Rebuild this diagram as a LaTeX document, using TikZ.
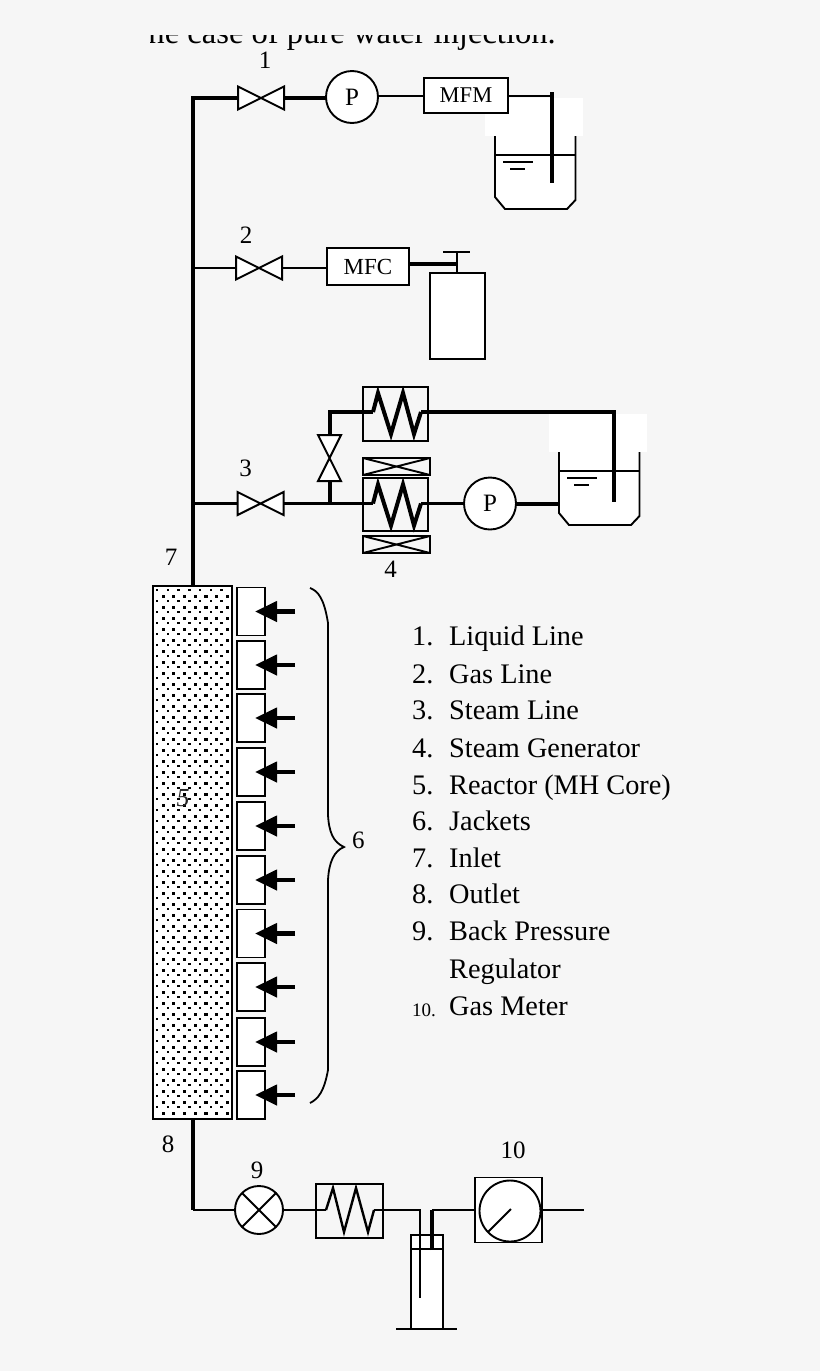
\documentclass[tikz,border=0pt]{standalone}
\usepackage{fontspec}
\setmainfont{Liberation Serif}
\usetikzlibrary{
    positioning,      % For placing nodes relative to each other
    arrows.meta       % For the jacket arrow tips
}
\definecolor{page_grey}{HTML}{F6F6F6}

% Bowtie drawn through the corners of a valve node
\newcommand{\drawvalve}[1]{\draw[valve_line] (#1.north west) -- (#1.south west) -- (#1.north east) -- (#1.south east) -- cycle;}
\newcommand{\drawvalveup}[1]{\draw[valve_line] (#1.north west) -- (#1.north east) -- (#1.south west) -- (#1.south east) -- cycle;}
% Zigzag through a coil node
\newcommand{\drawcoil}[2]{\draw[#2, line join=miter] (#1.west) -- ++(5,-19) -- ++(13,41) -- ++(12,-41) -- ++(11,41) -- (#1.east);}
% Cross through a heater node
\newcommand{\drawheater}[1]{\draw[box_line] (#1.north west) -- (#1.south east) (#1.south west) -- (#1.north east);}
% Beaker with its white patch and water level
\newcommand{\drawbeaker}[2]{
    \begin{scope}[shift={(#1,#2)}]
        \fill[white] (-10.5,-38) rectangle (87.5,0);
        \draw[box_line, fill=white] (0,0) -- (0,61) -- (10,73) -- (72,73) -- (80.5,64) -- (80.5,0);
        \draw[box_line] (0,19) -- (80.5,19);
        \draw[box_line] (8,26) -- (38,26);
        \draw[box_line] (15,33) -- (30,33);
    \end{scope}
}

\begin{document}
\begin{tikzpicture}[
    x=1pt, y=-1pt,
    % Line weights
    pipe_thick/.style={line width=4pt},
    pipe_mid/.style={line width=3.2pt},
    pipe_thin/.style={line width=2pt},
    box_line/.style={line width=1.9pt},
    valve_line/.style={line width=2pt, fill=white},
    % Nodes
    valve_box/.style={inner sep=0pt, outer sep=0pt, minimum width=46pt, minimum height=23pt},
    valve_up/.style={inner sep=0pt, outer sep=0pt, minimum width=23pt, minimum height=46pt},
    coil_box/.style={inner sep=0pt, outer sep=0pt, minimum width=48pt, minimum height=42pt},
    proc_box/.style={draw, box_line, fill=white, inner sep=0pt, outer sep=0pt, font=\fontsize{23}{24}\selectfont},
    pump/.style={draw, box_line, fill=white, circle, inner sep=0pt, outer sep=0pt, minimum size=52pt, font=\fontsize{25}{25}\selectfont},
    jacket/.style={draw, box_line, fill=white, inner sep=0pt, outer sep=0pt, minimum width=28pt, minimum height=48pt},
    jacket_arrow/.style={line width=4.2pt, -{Triangle[length=22pt, width=20pt]}},
    num_label/.style={inner sep=0pt, font=\fontsize{25}{25}\selectfont},
    list_style/.style={inner sep=0pt, font=\fontsize{28.3}{28}\selectfont}
]
    % Page background
    \fill[page_grey] (0,0) rectangle (820,1371);

    % 1. Leftover caption line, cut by the page
    \begin{scope}
        \clip (150,35) rectangle (560,52);
        \node[inner sep=0pt, anchor=base east, font=\fontsize{32.6}{32}\selectfont] (caption) at (556,43.5) {the case of pure water injection.};
    \end{scope}

    % 2. Reactor and its dots
    \node[draw, line width=2.2pt, fill=white, inner sep=0pt, outer sep=0pt, minimum width=79pt, minimum height=533pt] (reactor) at (192.5,852.5) {};
    \foreach \r in {0,...,95} {
        \pgfmathsetmacro{\dy}{589+\r*5.5}
        \pgfmathsetmacro{\dx}{mod(\r,2)==0 ? 156 : 161.5}
        \pgfmathsetmacro{\ds}{mod(\r,2)==0 ? 2.4 : 3.2}
        \foreach \c in {0,...,6} {
            \fill (\dx+\c*10.7,\dy) rectangle ++(\ds,\ds);
        }
    }
    \node[inner sep=0pt, font=\fontsize{26}{26}\selectfont\itshape, text=black!85] (five) at (183,798) {5};

    % 3. Jackets and arrows
    \foreach \i/\yc in {1/611.5,2/665,3/718,4/772,5/826,6/880,7/933.5,8/987,9/1042,10/1095} {
        \node[jacket] (j\i) at (251,\yc) {};
        \coordinate (ja\i) at ([xshift=30pt]j\i.east);
        \draw[jacket_arrow] (ja\i) -- ([xshift=-10pt]j\i.east);
    }
    \coordinate (bracetip) at (344,847);
    \draw[line width=1.8pt] (310,588) .. controls (318,591) and (324,598) .. (328,623) -- (328,815)
        .. controls (329,832) and (333,842) .. (bracetip)
        .. controls (334,851) and (329,862) .. (328,880) -- (328,1070)
        .. controls (324,1092) and (318,1099) .. (310,1103);
    \node[num_label, right=8pt of bracetip, yshift=7pt] (six) {6};

    % 4. Liquid line
    \drawbeaker{495}{136}
    \node[valve_box] (v1) at (261,98) {};
    \node[pump, right=42pt of v1, yshift=1pt] (p1) {P};
    \node[proc_box, minimum width=84pt, minimum height=35pt, font=\fontsize{22.5}{24}\selectfont] (mfm) at (466,95.5) {\raisebox{-2pt}{MFM}};
    \coordinate (tube1) at (551.5,92);
    \draw[pipe_thick] (v1.west) -| (reactor.north);
    \draw[pipe_thick] (v1.east) -- (v1.east -| p1.west);
    \draw[pipe_thin] (p1.east |- mfm.west) -- (mfm.west);
    \draw[pipe_thin] (mfm.east) -- (mfm.east -| tube1);
    \draw[pipe_thick] (tube1) -- ++(0,91);
    \drawvalve{v1}
    \node[num_label, above=18pt of v1.north, xshift=4pt] (n1) {1};

    % 5. Gas line
    \node[valve_box] (v2) at (259,268) {};
    \node[proc_box, minimum width=82pt, minimum height=37pt, right=45pt of v2, yshift=1.5pt] (mfc) {\raisebox{-1pt}{MFC}};
    \node[draw, box_line, fill=white, inner sep=0pt, outer sep=0pt, minimum width=55pt, minimum height=86pt] (bottle) at (457.5,316) {};
    \coordinate (cap) at (457,252);
    \draw[pipe_thin] (v2.west) -- (v2.west -| reactor.north);
    \draw[pipe_thin] (v2.east) -- (v2.east -| mfc.west);
    \draw[line width=4pt] (mfc.east |- 0,263.5) -- (457,263.5);
    \draw[pipe_thin] (bottle.north -| cap) -- (cap);
    \draw[pipe_thin] ([xshift=-14pt]cap) -- ([xshift=13pt]cap);
    \drawvalve{v2}
    \node[num_label, above=13pt of v2.north, xshift=-13pt] (n2) {2};

    % 6. Steam line
    \drawbeaker{559}{452}
    \node[draw, box_line, inner sep=0pt, outer sep=0pt, minimum width=65pt, minimum height=54pt] (hx1) at (395.5,414) {};
    \node[draw, box_line, inner sep=0pt, outer sep=0pt, minimum width=65pt, minimum height=53pt] (hx2) at (395.5,504.5) {};
    \node[draw, box_line, inner sep=0pt, outer sep=0pt, minimum width=67pt, minimum height=17pt] (heat1) at (396.5,466.5) {};
    \node[draw, box_line, inner sep=0pt, outer sep=0pt, minimum width=67pt, minimum height=17pt] (heat2) at (396.5,544.5) {};
    \drawheater{heat1}
    \drawheater{heat2}
    \node[coil_box] (coil1) at (397,412) {};
    \node[coil_box] (coil2) at (397,503.5) {};
    \node[valve_box] (v3) at (260.5,503.5) {};
    \node[valve_up] (v4) at (329.5,458) {};
    \node[pump] (p2) at (490,503.5) {P};
    \coordinate (tee) at (329.5,503.5);
    \coordinate (tube2) at (614,412);
    \draw[pipe_mid] (v3.west) -- (v3.west -| reactor.north);
    \draw[pipe_mid] (v3.east) -- (coil2.west);
    \draw[pipe_thick] (tee) -- (v4.south);
    \draw[pipe_thick] (v4.north) |- (coil1.west);
    \drawcoil{coil1}{pipe_thick}
    \drawcoil{coil2}{pipe_thick}
    \draw[pipe_thick] (coil1.east) -- (tube2) -- ++(0,90);
    \draw[pipe_mid] (coil2.east) -- (p2.west);
    \draw[pipe_thick] (p2.east) -- (559,503.5);
    \drawvalve{v3}
    \drawvalveup{v4}
    \node[num_label, above=15pt of v3.north, xshift=-15pt] (n3) {3};
    \node[num_label, below=8pt of heat2.south, xshift=-6pt] (n4) {4};
    \node[num_label] (n7) at (171,557) {7};

    % 7. Outlet line
    \node[draw, box_line, fill=white, inner sep=0pt, outer sep=0pt, minimum width=32pt, minimum height=94pt] (vessel) at (427,1282) {};
    \draw[box_line] ([yshift=-14pt]vessel.north west) -- ([yshift=-14pt]vessel.north east);
    \draw[box_line] ([xshift=-15pt]vessel.south west) -- ([xshift=14pt]vessel.south east);
    \node[draw, box_line, fill=white, circle, inner sep=0pt, outer sep=0pt, minimum size=48pt] (bpr) at (259,1210) {};
    \draw[box_line] (bpr.45) -- (bpr.225) (bpr.135) -- (bpr.315);
    \node[draw, box_line, inner sep=0pt, outer sep=0pt, minimum width=67pt, minimum height=54pt] (hx3) at (349.5,1211) {};
    \node[coil_box, minimum width=48pt] (coil3) at (350,1210) {};
    \node[draw, box_line, fill=white, inner sep=0pt, outer sep=0pt, minimum width=67pt, minimum height=65pt] (meterbox) at (508.5,1210) {};
    \node[draw, box_line, fill=white, circle, inner sep=0pt, outer sep=0pt, minimum size=61pt] (meter) at (510,1211) {};
    \coordinate (dip) at (420,1298);
    \coordinate (dip2) at (432,1250);
    \coordinate (vent) at (584,1210);
    \draw[pipe_thick] (reactor.south) -- (reactor.south |- bpr.west);
    \draw[pipe_thin] (reactor.south |- bpr.west) -- (bpr.west);
    \draw[pipe_thin] (bpr.east) -- (coil3.west);
    \draw[line width=2.4pt, line join=miter] (coil3.west) -- ++(7,-22) -- ++(11,44) -- ++(12,-44) -- ++(12,44) -- (coil3.east);
    \draw[pipe_thin] (coil3.east) -| (dip);
    \draw[pipe_thick] (dip2) -- (432,1210);
    \draw[pipe_thin] (432,1210) -- (meterbox.west);
    \draw[pipe_thin] (meterbox.east) -- (vent);
    \draw[box_line] (488,1232) -- (511,1209);
    \node[num_label] (n8) at (168,1144) {8};
    \node[num_label, above=7pt of bpr.north, xshift=-2pt] (n9) {9};
    \node[num_label] (n10) at (513,1150) {10};

    % 8. Legend
    \foreach \i/\txt/\yb in {1/Liquid Line/645,2/Gas Line/683,3/Steam Line/719,4/Steam Generator/757,5/Reactor (MH Core)/794,6/Jackets/830,7/Inlet/867,8/Outlet/903,9/Back Pressure/940} {
        \node[list_style, anchor=base west] (num\i) at (412,\yb) {\i.};
        \node[list_style, anchor=base west] (item\i) at (449,\yb) {\txt};
    }
    \node[list_style, anchor=base west] (item9b) at (449,978) {Regulator};
    \node[list_style, anchor=base west, font=\fontsize{19}{19}\selectfont] (num10) at (412,1016) {10.};
    \node[list_style, anchor=base west] (item10) at (449,1015) {Gas Meter};
\end{tikzpicture}
\end{document}
